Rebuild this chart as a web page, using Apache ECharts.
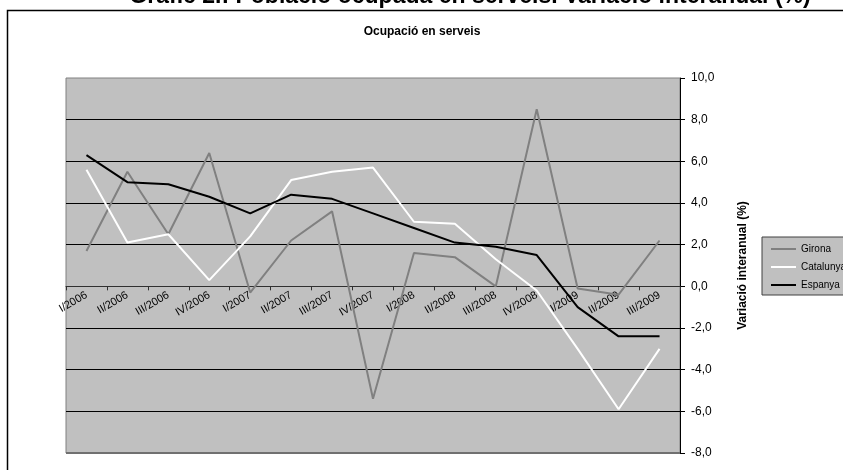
<!DOCTYPE html>
<html>
<head>
<meta charset="utf-8">
<script src="https://cdn.jsdelivr.net/npm/echarts@6/dist/echarts.min.js"></script>
<style>html,body{margin:0;padding:0;background:#fff;}#c{width:843px;height:470px;}</style>
</head>
<body>
<div id="c"></div>
<script>
var categories = ['I/2006','II/2006','III/2006','IV/2006','I/2007','II/2007','III/2007','IV/2007','I/2008','II/2008','III/2008','IV/2008','I/2009','II/2009','III/2009'];
var girona    = [1.7, 5.5, 2.5, 6.4, -0.3, 2.2, 3.6, -5.4, 1.6, 1.4, 0.0, 8.5, -0.1, -0.4, 2.2];
var catalunya = [5.6, 2.1, 2.5, 0.3, 2.4, 5.1, 5.5, 5.7, 3.1, 3.0, 1.3, -0.2, -3.0, -5.9, -3.0];
var espanya   = [6.3, 5.0, 4.9, 4.3, 3.5, 4.4, 4.2, 3.5, 2.8, 2.1, 1.9, 1.5, -1.0, -2.4, -2.4];
var yTicks = {min: -8, max: 10, interval: 2};

var gridTop = 78, gridHeight = 375;
// distance from bottom of grid to the zero line, derived from the axis range
var zeroOffset = gridHeight * (0 - yTicks.min) / (yTicks.max - yTicks.min);

var chart = echarts.init(document.getElementById('c'), null, {renderer: 'canvas'});
var font = 'Arial, "Liberation Sans", sans-serif';
function mk(name, data, color) {
  return {
    name: name, type: 'line', data: data, symbol: 'none', smooth: false,
    lineStyle: {color: color, width: 2}, itemStyle: {color: color},
    emphasis: {disabled: true}, animation: false
  };
}
chart.setOption({
  animation: false,
  textStyle: {fontFamily: font},
  graphic: [
    {type: 'rect', shape: {x: 7.5, y: 10.5, width: 900, height: 500}, style: {fill: null, stroke: '#000', lineWidth: 1.5}, z: 0},
    {type: 'text', x: 470, y: 8.5, style: {text: 'Gràfic 2.: Població ocupada en serveis. Variació interanual (%)', fontFamily: font, fontWeight: 'bold', fontSize: 23, fill: '#000', textAlign: 'center', textVerticalAlign: 'bottom'}},
    {type: 'text', x: 422, y: 32, style: {text: 'Ocupació en serveis', fontFamily: font, fontWeight: 'bold', fontSize: 12, fill: '#000', textAlign: 'center', textVerticalAlign: 'middle'}},
    {type: 'line', shape: {x1: 66, y1: 453, x2: 680, y2: 453}, style: {stroke: '#707070', lineWidth: 2}, z: 1}
  ],
  legend: {
    orient: 'vertical', left: 762, top: 237,
    padding: [7, 30, 5, 9], itemGap: 8,
    itemWidth: 25, itemHeight: 2, icon: 'rect',
    backgroundColor: '#c0c0c0', borderColor: '#404040', borderWidth: 1,
    textStyle: {fontSize: 10, color: '#000', fontFamily: font},
    data: ['Girona', 'Catalunya', 'Espanya']
  },
  grid: {left: 66, top: gridTop, width: 614, height: gridHeight, show: true, backgroundColor: '#c0c0c0', borderColor: '#808080', borderWidth: 1, containLabel: false},
  xAxis: {
    type: 'category', data: categories, boundaryGap: true, position: 'bottom',
    offset: -zeroOffset,
    axisLine: {onZero: false, lineStyle: {color: '#303030', width: 1}},
    axisTick: {show: true, alignWithLabel: false, length: 4, lineStyle: {color: '#303030'}},
    axisLabel: {rotate: 30, fontSize: 11, color: '#000', margin: 8, interval: 0, fontFamily: font},
    splitLine: {show: false}
  },
  yAxis: {
    type: 'value', position: 'right', min: yTicks.min, max: yTicks.max, interval: yTicks.interval,
    name: 'Variació interanual (%)', nameLocation: 'middle', nameRotate: 90, nameGap: 57,
    nameTextStyle: {fontWeight: 'bold', fontSize: 12, color: '#000', fontFamily: font},
    axisLine: {show: true, lineStyle: {color: '#000', width: 1}},
    axisTick: {show: true, length: 5, lineStyle: {color: '#000'}},
    axisLabel: {fontSize: 12, color: '#000', margin: 11, fontFamily: font, formatter: function (v) { return v.toFixed(1).replace('.', ','); }},
    splitLine: {show: true, showMinLine: false, showMaxLine: false, lineStyle: {color: '#000', width: 1}}
  },
  series: [mk('Girona', girona, '#808080'), mk('Catalunya', catalunya, '#ffffff'), mk('Espanya', espanya, '#000000')]
});
</script>
</body>
</html>
